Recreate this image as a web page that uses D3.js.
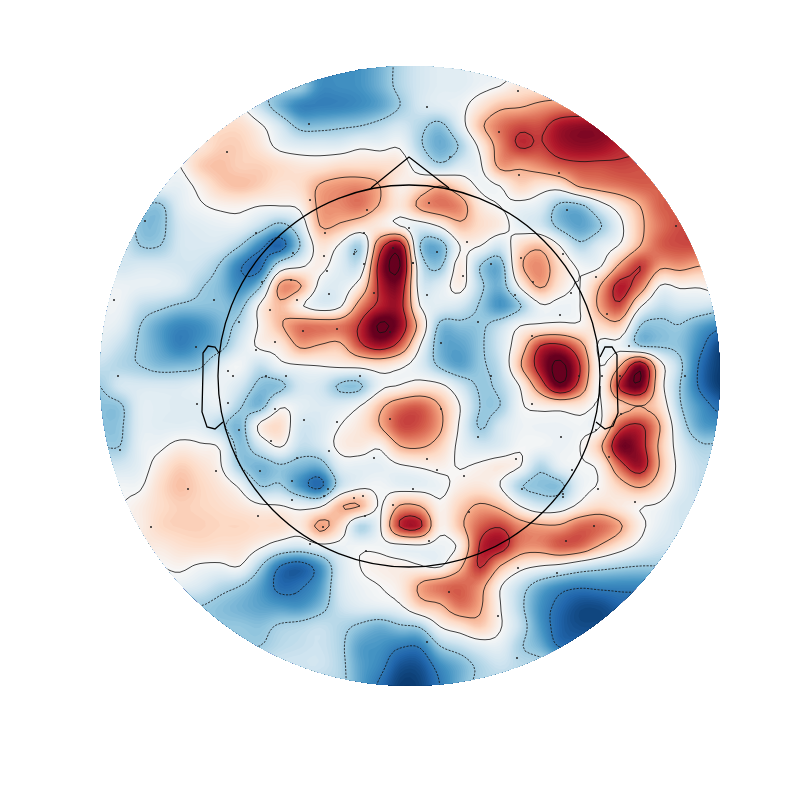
<!DOCTYPE html>
<html>
<head>
<meta charset="utf-8">
<script src="https://cdn.jsdelivr.net/npm/d3@7"></script>
<style>
  html, body { margin: 0; padding: 0; background: #fff; }
</style>
</head>
<body>
<svg id="chart" width="800" height="800"></svg>
<script>
const _ = null;

// field, 20 units between samples
const gridRows = [
  [_,_,_,_,_,_,_,_,_,_,_,_,-5.2,-5,-4,-2.5,-1.5,-1,-1,-0.5,_,_,_,_,_,_,_,_,_,_,_,_],
  [_,_,_,_,_,_,_,_,_,_,-3,-5.2,-5.2,-5,-4,-2.5,-1.5,-1,-1,-0.5,0,1,_,_,_,_,_,_,_,_,_,_],
  [_,_,_,_,_,_,_,0,-2,-4,-5.6,-5.7,-5.6,-5.2,-4.5,-3,-1.5,-1,-0.5,1,2.5,2.8,3.5,4,_,_,_,_,_,_,_,_],
  [_,_,_,_,_,_,1.5,1.5,0.3,-1.5,-3.5,-3.6,-3.3,-3,-2.3,-1.5,-2.5,-3.5,-1,2.5,4.5,5.5,5.5,7,7.5,7.5,_,_,_,_,_,_],
  [_,_,_,_,_,1,2,2,1,-0.5,-1,-1,-1,-0.3,-0.5,-0.2,-2.7,-4.2,-2.8,0.5,4,6.2,5.8,7,7.5,7.3,6.5,_,_,_,_,_],
  [_,_,_,_,0,2,2.5,2,2,1.5,1,1,1.5,1.5,1.5,1,-1,-2.5,-1.2,-0.3,3.5,3.3,4,5,5.5,5.5,5.7,5.5,_,_,_,_],
  [_,_,_,-0.5,-0.7,0.5,2,2.5,2,1.2,1.5,3.2,3.8,4,3,0.5,1.5,3,1.5,-0.3,0,1.8,0.9,1,3.3,4,4.5,5,5,_,_,_],
  [_,_,-3,-3.3,-1,-0.2,0.3,0.4,0,0,0.4,3.5,4,4.5,2.8,1,3.5,4.5,4,1,0,-0.5,-1,-3.5,-3.5,-1,1,3,5,5,_,_],
  [_,-1,-3.5,-3.5,-1.5,-1,-0.7,-0.7,-2,-3.6,-1.5,3,2.7,1.5,0.8,0,-1,0.2,2.5,1.5,0.7,-0.8,-1.5,-3.5,-4.5,-3.2,-0.5,2.5,4.5,5.5,_,_],
  [_,-1.3,-3,-3,-1.5,-1.3,-1.5,-3,-5.5,-6.8,-3,1,-0.3,-2.8,5,7.5,-3,-4,0,0,-1.5,1.5,2.5,0,-2.5,-1,0.2,3,5,5.5,_,_],
  [-0.5,-1.5,-1.3,-1.3,-1.5,-1.8,-3.2,-5.8,-6.5,-1.5,-0.3,0.5,-1,-1.5,7,9,-1.5,-3.3,0.8,-3,-4,2.5,4,1.5,-0.3,-0.2,3.5,6,3.5,3.7,3,_],
  [-0.5,-0.5,-0.7,-0.8,-1.2,-2.8,-3.7,-5.3,-3.3,3.5,3.2,-0.5,-1,1,6.5,7.5,-1,-1,0.6,-2.5,-4,0.3,3.3,1,0,3,6.7,4.5,-0.1,0.3,0.2,1],
  [-0.5,-0.5,-2,-2.6,-3.3,-3.5,-3.5,-3.6,0.3,2.6,0.3,-1,-0.3,4,6.5,6.8,0,-1,-1.5,-3.2,-5,-3.2,-0.3,-0.5,0,3.5,5.5,0.3,-2,-1.5,-1.5,-2],
  [-0.5,-1,-3,-4.5,-5.5,-5.2,-4,-2.3,0.3,2.7,4.5,4.5,4.5,6.2,9.3,7.5,2,-3.5,-3.5,-3.3,-2,0,0.3,0.5,0.3,1.5,2,-3,-3.4,-3.1,-4.5,-5.5],
  [-1,-2,-3.2,-4.5,-5.7,-4.8,-3.7,-1.3,0.3,0.8,3.3,2.8,2.5,5.5,7,5,0,-4,-4.5,-3.3,-1.5,1.5,6,6.5,4,-0.5,-0.5,-3,-3.2,-3.5,-5.5,-7.7],
  [-2,-2.5,-3,-3.7,-3.7,-3.3,-1,-0.3,-2,-0.5,-0.2,0,0.3,0.5,1,0.3,-1,-3.3,-4.5,-3.3,-2,2.7,7,9.5,6,0,3,8,1,-2.5,-6.3,-8],
  [-3,-1.5,-1.3,-1.3,-1.3,-0.8,-0.5,-1.5,-3.5,-3.5,-1.5,-1.5,-3.3,-3.3,-0.5,0.1,0.8,0.5,-1.5,-3.2,-2.5,0.1,4.5,8.5,5,0,6.5,8.5,1,-3,-6.3,-8],
  [-3.5,-3.3,-1,-1,-1.1,-1.1,-0.7,-2.8,-3.8,-0.3,-0.8,-1.2,-1,0,2.5,4.5,5,3,0,-3,-3,-0.3,0.5,0.8,0.8,-0.1,2,3,1.5,-2.8,-5,-6.5],
  [-3.5,-3.3,-1,-1,-1,-1,-2.5,-3.8,0.5,1.5,-1.5,-1.3,0,1,3,5.5,5.3,3.4,-0.3,-3.2,-1.5,-0.5,-0.5,-0.5,-0.3,-0.1,5.3,6.3,3,-1.8,-4.5,-5],
  [-3,-3,-0.8,-0.3,0.5,0.2,-0.2,-3.6,-1.5,0.2,-2,-1.5,0.5,0.8,0.3,3,3.3,2,-0.5,-1.5,-1.2,-0.2,-0.3,-0.5,0,2.5,8,7,2.5,-1,-2.7,_],
  [_,-1.5,-0.8,0.8,2,1.3,0.2,-3,-4,-3.2,-3.8,-4,-1,-0.8,-0.8,-0.2,0.2,0.5,-0.1,0.3,0.8,0.1,-2.5,-0.7,-0.2,0.5,5,7.2,2.8,-0.6,-2,_],
  [_,-0.3,-0.2,1.5,2.5,1.8,1,-0.3,-3,-2.8,-5,-6.5,-2,-0.5,-0.3,-0.8,-0.8,-0.5,0.6,1,0,-2.8,-3.5,-3.5,-0.7,0.2,2,3.3,1.5,-0.8,-2,_],
  [_,0,0.6,1.5,2,1.8,1.5,1,0.3,0.1,-0.5,-0.3,2.8,3,-0.2,3.2,3,0.3,2,3.3,2.5,0,-1.5,-1.2,0.5,1.5,0.8,0.1,-0.3,-1.5,_,_],
  [_,_,0.6,1.7,2,2,1.8,1.8,1.5,1.5,0.8,3.5,1.5,-2.5,-0.2,6.2,6.5,0.5,2.5,5,5.8,4,3.3,3.3,4.8,4.8,3.3,0.5,-0.8,-1.5,_,_],
  [_,_,_,0.8,1.3,1.5,1.3,1.2,0.3,-1,-1.5,-0.5,-0.5,-0.3,-0.3,-0.5,-0.3,-0.5,0.5,6.2,7,4.3,4,5.2,4.8,2.8,1,-0.5,-1.5,_,_,_],
  [_,_,_,0,0.3,-0.2,-0.3,0,-2.8,-6,-6.8,-5,-1.5,0,0.5,0.6,0.1,-0.2,2.5,6.2,3,0.8,0,-0.5,-1.5,-2.2,-2.7,-3,-3,_,_,_],
  [_,_,_,_,-0.8,-1.3,-2.3,-3,-4.5,-6.5,-6.2,-4.8,-1.5,-0.5,0,0.7,3.3,4.5,5,3.8,0.2,-2,-4,-5.2,-5.7,-5.5,-5.5,-5.5,_,_,_,_],
  [_,_,_,_,_,-3,-3.5,-4,-4.5,-4.8,-5,-3.8,-1.8,-1,-0.7,-0.2,2,2.7,4.5,3.3,0.1,-2.5,-5,-6.5,-7.5,-7.5,-6.8,_,_,_,_,_],
  [_,_,_,_,_,_,-3.3,-3.3,-3.5,-2.8,-2.5,-2,-2.5,-3.3,-4,-3.2,-2.7,0.1,1.2,2.2,0.2,-2,-4.8,-6.8,-7.5,-7.5,_,_,_,_,_,_],
  [_,_,_,_,_,_,_,_,-3,-2.3,-2,-1.8,-2.6,-4.6,-5,-5.8,-5.8,-3,-2,-1,-0.8,-2.8,-4,-6.2,_,_,_,_,_,_,_,_],
  [_,_,_,_,_,_,_,_,_,_,-1.7,-1.7,-2.5,-4.5,-5.5,-7.3,-7.3,-5.3,-4,-2.6,-1.8,-2.3,_,_,_,_,_,_,_,_,_,_],
  [_,_,_,_,_,_,_,_,_,_,_,_,-2.5,-4.5,-6.3,-8,-7.8,-6,-4,-2.5,_,_,_,_,_,_,_,_,_,_,_,_]
];

const contourLevels = [-6, -3, 0, 3, 6, 9];

// matplotlib's RdBu_r stops, and the field value that reaches each end
const colorStops = ['#053061','#2166ac','#4393c3','#92c5de','#d1e5f0','#f7f7f7','#fddbc7','#f4a582','#d6604d','#b2182b','#67001f'];
const FIELD_MAX = 8.4;

// sensor positions in the same units as the grid
const sensorX = [209,127,45,210,267,156,225,264,224,193,254,293,313,264,227,114,191,162,274,14,229,197,170,139,203,237,290,96,175,156,18,128,133,166,186,260,
  418,327,399,350,419,459,329,467,576,309,367,337,463,421,391,313,363,496,433,471,327,415,507,460,378,432,341,529,391,479,502,520,585,
  97,175,204,237,290,139,171,229,274,20,197,116,160,192,228,313,88,263,224,254,192,293,265,158,223,51,210,266,128,
  341,432,521,496,378,461,509,327,416,472,364,498,422,463,337,535,463,369,494,466,329,379,418,457,349,398,327,417];
const sensorY = [58,86,155,134,144,167,167,167,190,187,188,182,197,198,205,234,214,216,227,234,228,234,244,256,265,263,266,281,276,284,310,305,310,310,310,310,
  25,41,66,91,109,107,137,144,160,162,176,186,188,192,198,197,210,211,216,227,229,229,248,249,256,270,277,280,310,310,310,310,310,
  338,343,354,356,353,364,375,385,392,384,392,405,405,415,423,423,423,430,430,432,434,439,450,450,461,461,478,485,
  337,343,338,348,364,371,371,391,393,393,404,410,423,423,428,404,436,431,446,460,475,475,485,502,507,526,550,576,592];

const headX = [371,409,449];
const headY = [188,157,188];
const leftEarX = [219,215,208,203,203,202,207,215,223];
const leftEarY = [353,347,346,353,370,412,427,429,422];
const rightEarX = [600,605,612,617,617,618,613,605,596];
const rightEarY = [357,347,347,355,380,413,426,429,422];

const STEP = 20, ZOOM = 4, SPAN = 620;

const x = d3.scaleLinear().domain([0, SPAN]).range([100, 720]);
const y = d3.scaleLinear().domain([0, SPAN]).range([66, 686]);
const color = d3.scaleLinear()
  .domain(d3.range(11).map(i => -FIELD_MAX + i * FIELD_MAX / 5))
  .range(colorStops)
  .clamp(true);

// samples past the rim just repeat the nearest one in their row
const filled = gridRows.map(row => row.map((v, i) => {
  if (v !== null) return v;
  const first = row.findIndex(d => d !== null);
  if (i < first) return row[first];
  let last = row.length - 1;
  while (row[last] === null) last--;
  return row[last];
}));

function cubic(a, b, c, d, t) {
  return b + 0.5 * t * (c - a + t * (2 * a - 5 * b + 4 * c - d + t * (3 * (b - c) + d - a)));
}

// smooth the samples for drawing, as imshow does with its bicubic mode
const nRows = filled.length, nCols = filled[0].length;
const W = (nCols - 1) * ZOOM + 1, H = (nRows - 1) * ZOOM + 1;
const field = new Float64Array(W * H);
const at = (r, c) => filled[Math.max(0, Math.min(nRows - 1, r))][Math.max(0, Math.min(nCols - 1, c))];
for (let j = 0; j < H; j++) {
  const r = Math.floor(j / ZOOM), tr = j / ZOOM - r;
  for (let i = 0; i < W; i++) {
    const c = Math.floor(i / ZOOM), tc = i / ZOOM - c;
    const col = [-1, 0, 1, 2].map(k => cubic(at(r + k, c - 1), at(r + k, c), at(r + k, c + 1), at(r + k, c + 2), tc));
    field[j * W + i] = cubic(col[0], col[1], col[2], col[3], tr);
  }
}

const svg = d3.select('#chart');

svg.append('clipPath').attr('id', 'rim').append('circle')
  .attr('cx', x(310)).attr('cy', y(310)).attr('r', x(310) - x(0));

const toScreen = d3.geoTransform({
  point(px, py) {
    this.stream.point(x((px - 0.5) * STEP / ZOOM), y((py - 0.5) * STEP / ZOOM));
  }
});
const path = d3.geoPath(toScreen);

const fillLevels = d3.range(-12, 12.01, 0.15);
const contours = d3.contours().size([W, H]).smooth(true);

const map = svg.append('g').attr('clip-path', 'url(#rim)');

map.append('rect').attr('x', 100).attr('y', 66).attr('width', 620).attr('height', 620)
  .attr('fill', color(-12));

map.selectAll('path.fill')
  .data(contours.thresholds(fillLevels)(field))
  .enter().append('path')
  .attr('class', 'fill')
  .attr('d', path)
  .attr('fill', d => color(d.value + 0.075));

map.selectAll('path.level')
  .data(contours.thresholds(contourLevels)(field))
  .enter().append('path')
  .attr('class', 'level')
  .attr('d', path)
  .attr('fill', 'none')
  .attr('stroke', '#111')
  .attr('stroke-width', 0.8)
  .attr('stroke-dasharray', d => d.value < 0 ? '2.2,1.3' : null);

map.selectAll('circle.sensor')
  .data(sensorX.map((d, i) => [d, sensorY[i]]))
  .enter().append('circle')
  .attr('class', 'sensor')
  .attr('cx', d => x(d[0]))
  .attr('cy', d => y(d[1]))
  .attr('r', 1)
  .attr('fill', '#222');

// head outline sits in picture coordinates, offset to field units
const outline = d3.line().x(d => x(d[0] - 100)).y(d => y(d[1] - 66));
const pairs = (xs, ys) => xs.map((d, i) => [d, ys[i]]);
[pairs(headX, headY), pairs(leftEarX, leftEarY), pairs(rightEarX, rightEarY)].forEach(line => {
  map.append('path')
    .attr('d', outline(line))
    .attr('fill', 'none')
    .attr('stroke', '#000')
    .attr('stroke-width', 1.3);
});

map.append('circle')
  .attr('cx', x(309)).attr('cy', y(310)).attr('r', 191)
  .attr('fill', 'none')
  .attr('stroke', '#000')
  .attr('stroke-width', 1.3);
</script>
</body>
</html>
